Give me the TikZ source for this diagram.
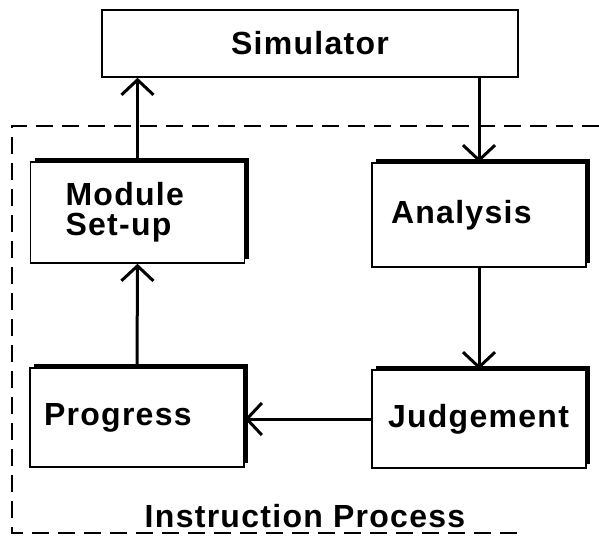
\documentclass[tikz,border=0pt]{standalone}
\usepackage{fontspec}
\setmainfont{Liberation Sans}[LetterSpace=4]
\usetikzlibrary{arrows.meta,shadows}

\tikzset{
  block/.style={shape=rectangle, draw=black, line width=1.6pt, fill=white,
    font=\bfseries\fontsize{32}{30}\selectfont, align=left,
    minimum width=214pt, minimum height=100pt},
  pad/.style 2 args={inner xsep=#1, text width=#2},
  shadowed/.style={drop shadow={opacity=1, fill=black, shadow xshift=4pt, shadow yshift=4pt}},
  flow/.style={line width=3pt, -{Straight Barb[length=15pt,width=32pt,line width=3pt]}},
  frame/.style={line width=1.8pt, dash pattern=on 17pt off 9pt},
  caption/.style={shape=rectangle, draw=none, font=\bfseries\fontsize{32}{34}\selectfont}
}

\begin{document}
\begin{tikzpicture}[x=1pt, y=-1pt]
%%%%%%%%%%%%%%%%%%%%%%%%%%%%%%%%%%%%%%%%%%% HELP LINES
%\draw[help lines, step=50] (0,0) grid (599,536);
\useasboundingbox (0,0) rectangle (599,536);

%%%%%%%%%%%%%%%%%%%%%%%%%%%%%%%%%%%%%%%%%%% dashed frame
\draw[frame] (599,126) -- (12,126) -- (12,533) -- (520,533);
\node[caption](procname) at (305,516){Instruction Process};

%%%%%%%%%%%%%%%%%%%%%%%%%%%%%%%%%%%%%%%%%%% elements
\node[block, align=center, minimum width=416pt, minimum height=67pt](sim) at (310,43.5){Simulator};
\node[block, shadowed, pad={35pt}{144pt}, minimum height=101pt](module) at (137.5,212.5){Module\\Set-up};
\node[block, shadowed, pad={19pt}{176pt}, minimum height=104pt](analysis) at (479,215){Analysis};
\node[block, shadowed, pad={14pt}{186pt}, minimum height=99pt](progress) at (137,417.5){Progress};
\node[block, shadowed, pad={16pt}{182pt}, minimum height=98pt](judge) at (479,419){Judgement};

%%%%% flow between the steps
\draw[flow] (module.north) -- (module.north |- sim.south);
\draw[flow] (sim.south -| analysis.north) -- (analysis.north);
\draw[flow] (analysis.south) -- (judge.north);
\draw[flow] (judge.west) -- (judge.west -| progress.east);
\draw[flow] (progress.north) -- (module.south);
\end{tikzpicture}
\end{document}
